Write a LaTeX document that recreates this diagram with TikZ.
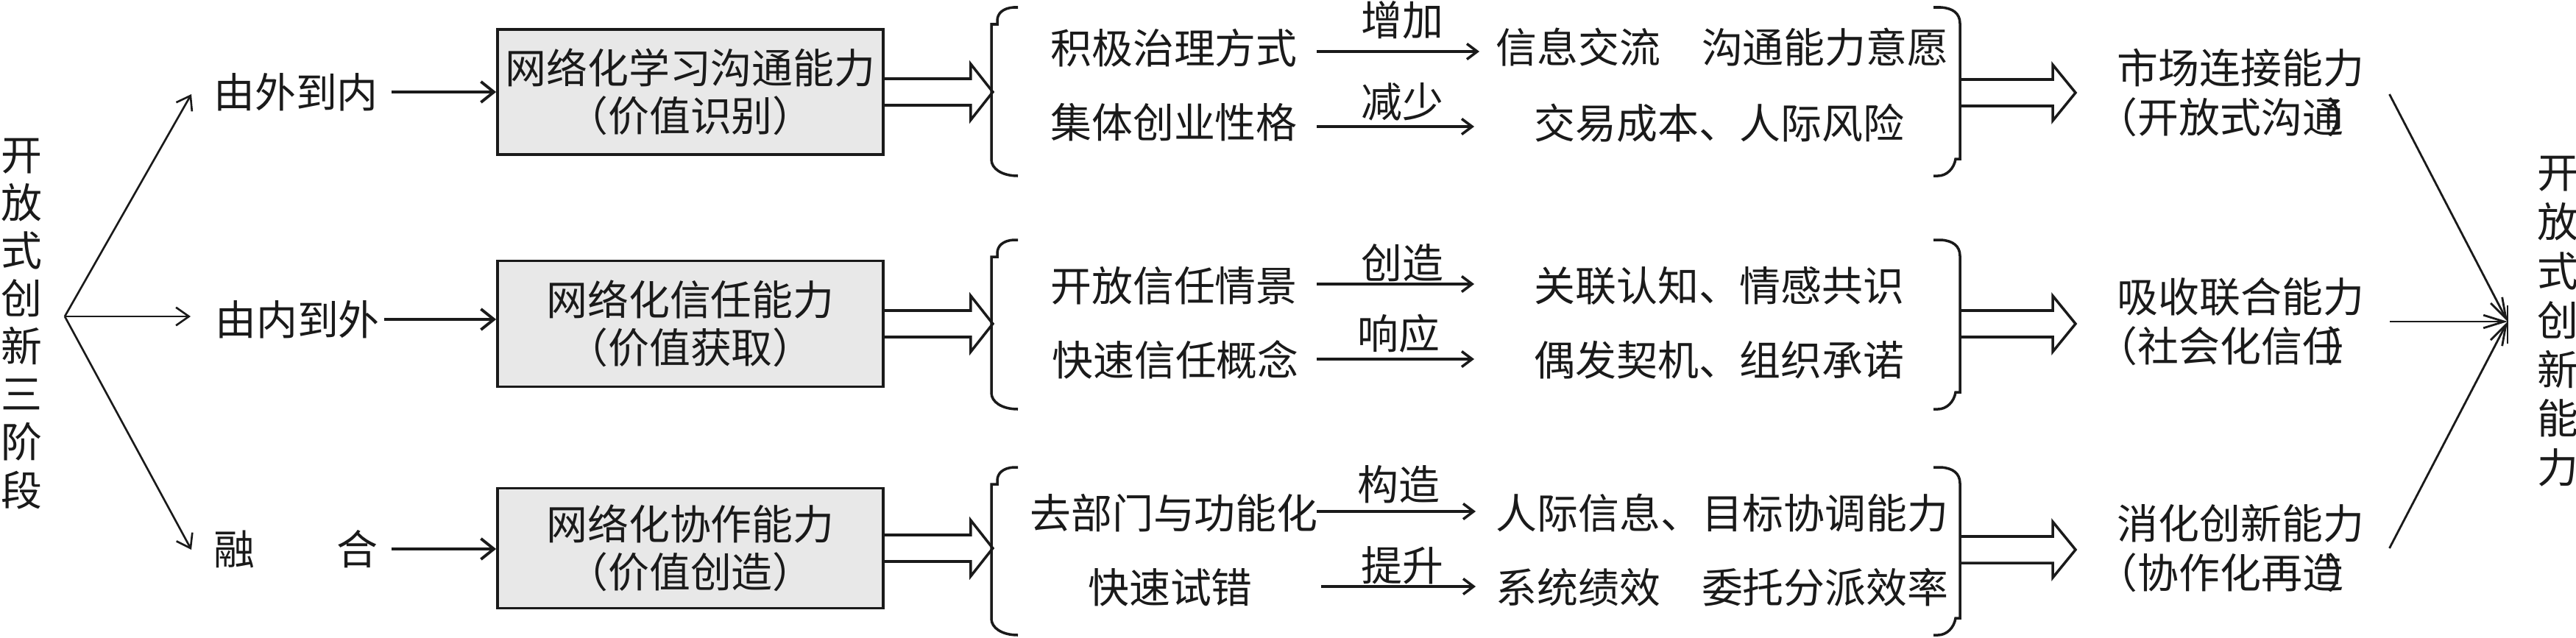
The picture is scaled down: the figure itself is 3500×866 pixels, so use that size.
\documentclass[tikz,border=0pt]{standalone}
\usepackage{fontspec}
\setmainfont{Noto Sans CJK SC}
\usetikzlibrary{arrows.meta,calc}
\definecolor{boxgray}{HTML}{E8E8E8}
\definecolor{ink}{HTML}{1A1A1A}
\newcommand\leftbrk[3]{%
  \draw[brk] ({#1+36},#2) -- ({#1+30},#2) .. controls ({#1+16},{#2+1}) and ({#1+8},{#2+8}) .. ({#1+8},{#2+18}) -- ({#1+8},{#2+23}) -- (#1,{#2+23}) -- (#1,{#3-22}) .. controls (#1,{#3-10}) and ({#1+14},#3) .. ({#1+36},#3);}
\newcommand\rightbrk[3]{%
  \draw[brk] ({#1-36},#2) -- ({#1-26},#2) .. controls ({#1-10},{#2+1}) and (#1,{#2+8}) .. (#1,{#2+22}) -- (#1,{#3-23}) -- ({#1-6},{#3-23}) .. controls ({#1-8},{#3-10}) and ({#1-18},#3) .. ({#1-30},#3) -- ({#1-36},#3);}
\tikzset{
  txt/.style={inner sep=0pt, text=ink, font=\fontsize{15.9pt}{18.5pt}\selectfont},
  vtxt/.style={txt, align=center},
  outtxt/.style={txt, align=left, anchor=west, font=\fontsize{15.9pt}{19pt}\selectfont},
  capbox/.style={draw=ink, line width=1pt, fill=boxgray, minimum width=5.24cm, align=center, inner sep=0pt, text=ink, font=\fontsize{15.9pt}{18.5pt}\selectfont},
  divarr/.style={draw=ink, line width=0.75pt, -{Straight Barb[length=5pt,width=7pt]}},
  feedarr/.style={draw=ink, line width=1.1pt, -{Straight Barb[length=5pt,width=8pt]}},
  rowarr/.style={draw=ink, line width=1pt, -{Straight Barb[length=4pt,width=6pt]}},
  convarr/.style={draw=ink, line width=0.8pt, -{Straight Barb[length=8pt,width=5pt]}},
  dbl/.style={draw=ink, line width=1pt},
  brk/.style={draw=ink, line width=1pt},
}
\begin{document}
\begin{tikzpicture}[x=0.01cm, y=-0.01cm]
\useasboundingbox (0,0) rectangle (3500,866);
\fill[white] (0,0) rectangle (3500,866);

% left stage text
\node[vtxt] (stage) at (29,440) {开\\放\\式\\创\\新\\三\\阶\\段};
\coordinate (orig) at (88,430);
\coordinate (d1) at (260,128);
\coordinate (d2) at (259,430);
\coordinate (d3) at (260,747);
\draw[divarr] (orig) -- (d1);
\draw[divarr] (orig) -- (d2);
\draw[divarr] (orig) -- (d3);

\node[txt] (t1) at (402,125) {由外到内};
\node[txt] (t2) at (404,434) {由内到外};
\node[txt] (t3) at (402,746) {融　　合};

% boxes
\node[capbox, minimum height=1.70cm] (b1) at (938,125) {网络化学习沟通能力\\（价值识别）};
\node[capbox, minimum height=1.71cm] (b2) at (938,440) {网络化信任能力\\（价值获取）};
\node[capbox, minimum height=1.63cm] (b3) at (938,745) {网络化协作能力\\（价值创造）};

\draw[feedarr] ([xshift=0.17cm]t1.east) -- (t1.east -| b1.west);
\draw[feedarr] ([xshift=0.05cm]t2.east) -- (t2.east -| b2.west);
\draw[feedarr] ([xshift=0.17cm]t3.east) -- (t3.east -| b3.west);

% double arrows from boxes
\draw[dbl] ([yshift=0.18cm]b1.east) -- ++(117,0) -- ++(0,-20) -- ++(30,38) -- ++(-30,38) -- ++(0,-20) -- ++(-117,0);
\draw[dbl] ([yshift=0.18cm]b2.east) -- ++(117,0) -- ++(0,-20) -- ++(30,38) -- ++(-30,38) -- ++(0,-20) -- ++(-117,0);
\draw[dbl] ([yshift=0.18cm]b3.east) -- ++(117,0) -- ++(0,-20) -- ++(30,38) -- ++(-30,38) -- ++(0,-20) -- ++(-117,0);

% braces
\leftbrk{1347}{10}{239}
\leftbrk{1347}{326}{556}
\leftbrk{1347}{635}{863}
\rightbrk{2663}{10}{239}
\rightbrk{2663}{326}{556}
\rightbrk{2663}{635}{863}

% group 1
\node[txt] (l11) at (1595,65) {积极治理方式};
\node[txt] (w11) at (1905,27) {增加};
\coordinate (s11) at (1789,70); \coordinate (e11) at (2010,70);
\draw[rowarr] (s11) -- (e11);
\node[txt] (r11) at (2340,64) {信息交流　沟通能力意愿};
\node[txt] (l12) at (1595,166) {集体创业性格};
\node[txt] (w12) at (1905,138) {减少};
\coordinate (s12) at (1789,172); \coordinate (e12) at (2003,172);
\draw[rowarr] (s12) -- (e12);
\node[txt] (r12) at (2336,167) {交易成本、人际风险};

% group 2
\node[txt] (l21) at (1595,388) {开放信任情景};
\node[txt] (w21) at (1905,357) {创造};
\coordinate (s21) at (1789,386); \coordinate (e21) at (2003,386);
\draw[rowarr] (s21) -- (e21);
\node[txt] (r21) at (2336,388) {关联认知、情感共识};
\node[txt] (l22) at (1597,489) {快速信任概念};
\node[txt] (w22) at (1900,453) {响应};
\coordinate (s22) at (1789,488); \coordinate (e22) at (2003,488);
\draw[rowarr] (s22) -- (e22);
\node[txt] (r22) at (2336,489) {偶发契机、组织承诺};

% group 3
\node[txt] (l31) at (1595,697) {去部门与功能化};
\node[txt] (w31) at (1900,658) {构造};
\coordinate (s31) at (1789,695); \coordinate (e31) at (2005,695);
\draw[rowarr] (s31) -- (e31);
\node[txt] (r31) at (2340,697) {人际信息、目标协调能力};
\node[txt] (l32) at (1590,798) {快速试错};
\node[txt] (w32) at (1905,768) {提升};
\coordinate (s32) at (1795,797); \coordinate (e32) at (2005,797);
\draw[rowarr] (s32) -- (e32);
\node[txt] (r32) at (2340,798) {系统绩效　委托分派效率};

% right double arrows
\coordinate (rb1) at (2663,126);
\coordinate (rb2) at (2663,440);
\coordinate (rb3) at (2663,747);
\draw[dbl] ([yshift=0.18cm]rb1) -- ++(126,0) -- ++(0,-20) -- ++(31,38) -- ++(-31,38) -- ++(0,-20) -- ++(-126,0);
\draw[dbl] ([yshift=0.18cm]rb2) -- ++(126,0) -- ++(0,-20) -- ++(31,38) -- ++(-31,38) -- ++(0,-20) -- ++(-126,0);
\draw[dbl] ([yshift=0.18cm]rb3) -- ++(126,0) -- ++(0,-20) -- ++(31,38) -- ++(-31,38) -- ++(0,-20) -- ++(-126,0);

% output capabilities
\node[outtxt] (o1) at (2876,126) {市场连接能力\\\hspace*{-0.5em}（开放式沟通\kern-0.4em）};
\node[outtxt] (o2) at (2876,437) {吸收联合能力\\\hspace*{-0.5em}（社会化信任\kern-0.4em）};
\node[outtxt] (o3) at (2876,745) {消化创新能力\\\hspace*{-0.5em}（协作化再造\kern-0.4em）};

% convergence
\coordinate (conv) at (3407,437);
\draw[convarr] ($(o1.east)+(28,2)$) -- (conv);
\draw[convarr] ($(o2.east)+(28,0)$) -- (conv);
\draw[convarr] ($(o3.east)+(28,0)$) -- (conv);
\draw[draw=ink, line width=0.8pt] ([yshift=0.22cm]conv) -- ([yshift=-0.30cm]conv);

\node[vtxt, font=\fontsize{15.9pt}{19pt}\selectfont] (final) at (3475,437) {开\\放\\式\\创\\新\\能\\力};
\end{tikzpicture}
\end{document}
